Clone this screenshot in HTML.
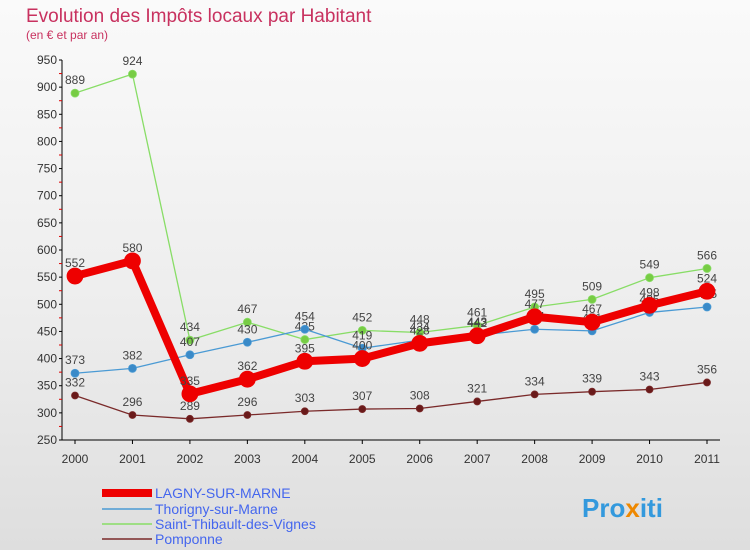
<!DOCTYPE html>
<html><head><meta charset="utf-8"><style>
body{margin:0}
#c{width:750px;height:550px;position:relative;background:linear-gradient(180deg,#fafafa 0%,#ececec 60%,#dedede 100%);font-family:"Liberation Sans",sans-serif;overflow:hidden}
</style></head><body>
<div id="c">
<svg id="s" width="750" height="550" style="position:absolute;left:0;top:0">
<text x="26" y="22" font-size="19" fill="#c8315f">Evolution des Impôts locaux par Habitant</text>
<text x="26" y="39" font-size="12" fill="#c8315f">(en € et par an)</text>
<g id="axes"></g><g id="series"></g>
<g font-size="14">
<line x1="102" y1="493" x2="152" y2="493" stroke="#ee0000" stroke-width="8"/>
<text x="155" y="498" fill="#4466ee">LAGNY-SUR-MARNE</text>
<line x1="102" y1="509" x2="152" y2="509" stroke="#4a9ad4" stroke-width="1.5"/>
<text x="155" y="514" fill="#4466ee">Thorigny-sur-Marne</text>
<line x1="102" y1="524" x2="152" y2="524" stroke="#88dd66" stroke-width="1.5"/>
<text x="155" y="529" fill="#4466ee">Saint-Thibault-des-Vignes</text>
<line x1="102" y1="539" x2="152" y2="539" stroke="#7a2a2a" stroke-width="1.5"/>
<text x="155" y="544" fill="#4466ee">Pomponne</text>
</g>
<text x="582" y="517" font-size="26" font-weight="bold" fill="#3399dd">Pro<tspan fill="#ee8800">x</tspan>iti</text>
</svg></div>
<script>
const years=[2000,2001,2002,2003,2004,2005,2006,2007,2008,2009,2010,2011];
const yTicks=[250,300,350,400,450,500,550,600,650,700,750,800,850,900,950];
const lagny=[552,580,335,362,395,400,428,442,477,467,498,524];
const thorigny=[373,382,407,430,454,419,434,443,454,451,485,495];
const stThibault=[889,924,434,467,435,452,448,461,495,509,549,566];
const pomponne=[332,296,289,296,303,307,308,321,334,339,343,356];
const NS="http://www.w3.org/2000/svg";
const X=i=>75+i*(707-75)/(years.length-1);
const Y=v=>440-(v-250)*(380/700);
function mk(t,a,p){const e=document.createElementNS(NS,t);for(const k in a)e.setAttribute(k,a[k]);p.appendChild(e);return e;}
const ax=document.getElementById('axes');
const yl=mk('line',{x1:62,y1:Y(950),x2:62,y2:Y(250),stroke:'#000'},ax);


const xl=mk('line',{x1:62,y1:440,x2:720,y2:440,stroke:'#000'},ax);


yTicks.forEach(v=>{
 mk('line',{x1:59,y1:Y(v),x2:62,y2:Y(v),stroke:'#000'},ax);
 if(v<950)mk('line',{x1:59,y1:Y(v+25),x2:62,y2:Y(v+25),stroke:'#dd0000'},ax);
 const t=mk('text',{x:57,y:Y(v)+4,'font-size':12,'text-anchor':'end',fill:'#333'},ax);t.textContent=v;
 
 
});
years.forEach((y,i)=>{
 mk('line',{x1:X(i),y1:440,x2:X(i),y2:444,stroke:'#000'},ax);
 const t=mk('text',{x:X(i),y:463,'font-size':12,'text-anchor':'middle',fill:'#333'},ax);t.textContent=y;
 
 
});
const sg=document.getElementById('series');
function draw(data,name,color,w,r,dot){
 const g=mk('g',{},sg);
 
 
 mk('polyline',{points:data.map((v,i)=>X(i)+','+Y(v)).join(' '),fill:'none',stroke:color,'stroke-width':w,'stroke-linejoin':'round'},g);
 data.forEach((v,i)=>{
  const c=mk('circle',{cx:X(i),cy:Y(v),r:r,fill:dot,stroke:color,'stroke-width':0.8},g);
  
  
  const t=mk('text',{x:X(i),y:Y(v)-9,'font-size':12,'text-anchor':'middle',fill:'#444'},g);t.textContent=v;
  
  
 });
}
draw(pomponne,'pomponne-series','#7a2a2a',1.3,3.5,'#6a1a1a');
draw(stThibault,'stthibault-series','#88dd66',1.3,4,'#77cc44');
draw(thorigny,'thorigny-series','#4a9ad4',1.3,4,'#3a8ac8');
draw(lagny,'lagny-series','#ee0000',8,8,'#ee0000');
</script>
</body></html>
